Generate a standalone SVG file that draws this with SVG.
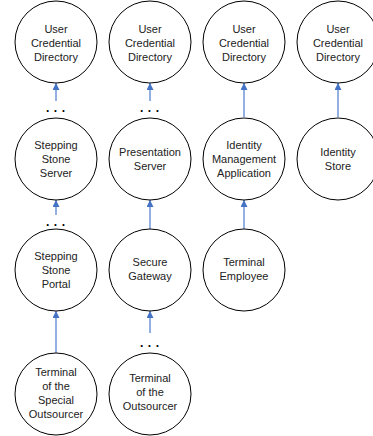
<svg xmlns="http://www.w3.org/2000/svg" width="373" height="436" viewBox="0 0 373 436">
<style>
.n circle{fill:#fff;stroke:#000;stroke-width:1}
.n text{font-family:"Liberation Sans",Arial,sans-serif;font-size:11px;fill:#222;text-anchor:middle}
.e line{stroke:#7196D8;stroke-width:1.5;fill:none}
.d{font-family:"Liberation Sans",Arial,sans-serif;font-size:12px;font-weight:bold;fill:#000;letter-spacing:4.5px}
</style>
<defs>
<marker id="ah" viewBox="0 0 10 10" refX="10" refY="5" markerWidth="7" markerHeight="7" markerUnits="userSpaceOnUse" orient="auto">
<path d="M0,0 L10,5 L0,10 z" fill="#4472C4"/>
</marker>
</defs>
<rect width="373" height="436" fill="#fff"/>
<g id="connectors" class="e">
<line x1="56" y1="101" x2="56" y2="83" marker-end="url(#ah)"/>
<line x1="56" y1="215" x2="56" y2="200" marker-end="url(#ah)"/>
<line x1="56" y1="353" x2="56" y2="311" marker-end="url(#ah)"/>
<line x1="150" y1="101" x2="150" y2="83" marker-end="url(#ah)"/>
<line x1="150" y1="229" x2="150" y2="200" marker-end="url(#ah)"/>
<line x1="150" y1="333" x2="150" y2="311" marker-end="url(#ah)"/>
<line x1="244" y1="117" x2="244" y2="83" marker-end="url(#ah)"/>
<line x1="244" y1="229" x2="244" y2="200" marker-end="url(#ah)"/>
<line x1="338" y1="117" x2="338" y2="83" marker-end="url(#ah)"/>
</g>
<g id="dots">
<text class="d" x="46" y="112">...</text>
<text class="d" x="46" y="226">...</text>
<text class="d" x="140" y="112">...</text>
<text class="d" x="140" y="347">...</text>
</g>
<g id="ucd1" class="n"><circle cx="56" cy="42" r="41"/><text x="56" y="33">User</text><text x="56" y="47">Credential</text><text x="56" y="61">Directory</text></g>
<g id="ucd2" class="n"><circle cx="150" cy="42" r="41"/><text x="150" y="33">User</text><text x="150" y="47">Credential</text><text x="150" y="61">Directory</text></g>
<g id="ucd3" class="n"><circle cx="244" cy="42" r="41"/><text x="244" y="33">User</text><text x="244" y="47">Credential</text><text x="244" y="61">Directory</text></g>
<g id="ucd4" class="n"><circle cx="338" cy="42" r="41"/><text x="338" y="33">User</text><text x="338" y="47">Credential</text><text x="338" y="61">Directory</text></g>
<g id="sss" class="n"><circle cx="56" cy="159" r="41"/><text x="56" y="149">Stepping</text><text x="56" y="163">Stone</text><text x="56" y="177">Server</text></g>
<g id="ps" class="n"><circle cx="150" cy="159" r="41"/><text x="150" y="156">Presentation</text><text x="150" y="170">Server</text></g>
<g id="ima" class="n"><circle cx="244" cy="159" r="41"/><text x="244" y="149">Identity</text><text x="244" y="163">Management</text><text x="244" y="177">Application</text></g>
<g id="is" class="n"><circle cx="338" cy="159" r="41"/><text x="338" y="156">Identity</text><text x="338" y="170">Store</text></g>
<g id="ssp" class="n"><circle cx="56" cy="270" r="41"/><text x="56" y="260">Stepping</text><text x="56" y="274">Stone</text><text x="56" y="288">Portal</text></g>
<g id="sg" class="n"><circle cx="150" cy="270" r="41"/><text x="150" y="266">Secure</text><text x="150" y="280">Gateway</text></g>
<g id="te" class="n"><circle cx="244" cy="270" r="41"/><text x="244" y="266">Terminal</text><text x="244" y="280">Employee</text></g>
<g id="tso" class="n"><circle cx="56" cy="394" r="41"/><text x="56" y="376">Terminal</text><text x="56" y="390">of the</text><text x="56" y="404">Special</text><text x="56" y="418">Outsourcer</text></g>
<g id="to" class="n"><circle cx="150" cy="394" r="41"/><text x="150" y="382">Terminal</text><text x="150" y="396">of the</text><text x="150" y="410">Outsourcer</text></g>
</svg>
